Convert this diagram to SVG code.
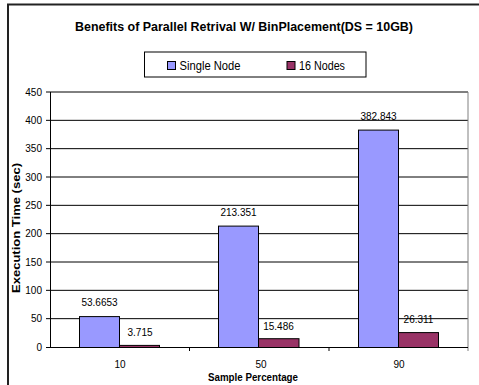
<svg xmlns="http://www.w3.org/2000/svg" width="479" height="385" viewBox="0 0 479 385">
  <style>
    text { font-family: "Liberation Sans", Arial, sans-serif; fill: #000; }
    .ylab { font-size: 10px; text-anchor: end; }
    .xlab { font-size: 10px; text-anchor: middle; }
    .val { font-size: 10px; text-anchor: middle; }
    .title { font-size: 13px; font-weight: bold; text-anchor: middle; }
    .axtitle { font-size: 10px; font-weight: bold; text-anchor: middle; }
    .leg { font-size: 12px; }
    .grid { stroke: #000; stroke-width: 1; }
    .axis { stroke: #808080; stroke-width: 1; fill: none; }
    .single { fill: #9999FF; stroke: #000; stroke-width: 1; }
    .nodes16 { fill: #993366; stroke: #000; stroke-width: 1; }
  </style>

  <rect x="0" y="0" width="479" height="385" fill="#fff"/>
  <!-- chart frame (runs past the right and bottom edges) -->
  <rect x="8" y="4.5" width="480" height="390" fill="none" stroke="#222" stroke-width="2"/>

  <text class="title" x="244" y="31" textLength="338" lengthAdjust="spacingAndGlyphs">Benefits of Parallel Retrival W/ BinPlacement(DS = 10GB)</text>

  <!-- legend -->
  <g id="legend">
    <rect x="144.5" y="52" width="221.5" height="25" fill="#fff" stroke="#000" stroke-width="1"/>
    <rect class="single" x="167.5" y="61.5" width="8" height="8"/>
    <text class="leg" x="179.5" y="69.5" textLength="61" lengthAdjust="spacingAndGlyphs">Single Node</text>
    <rect class="nodes16" x="287" y="61.5" width="8" height="8"/>
    <text class="leg" x="299" y="69.5" textLength="46" lengthAdjust="spacingAndGlyphs">16 Nodes</text>
  </g>

  <!-- gridlines -->
  <g id="gridlines">
    <line class="grid" x1="50" y1="92" x2="468" y2="92"/>
    <line class="grid" x1="50" y1="120.33" x2="468" y2="120.33"/>
    <line class="grid" x1="50" y1="148.67" x2="468" y2="148.67"/>
    <line class="grid" x1="50" y1="177" x2="468" y2="177"/>
    <line class="grid" x1="50" y1="205.33" x2="468" y2="205.33"/>
    <line class="grid" x1="50" y1="233.67" x2="468" y2="233.67"/>
    <line class="grid" x1="50" y1="262" x2="468" y2="262"/>
    <line class="grid" x1="50" y1="290.33" x2="468" y2="290.33"/>
    <line class="grid" x1="50" y1="318.67" x2="468" y2="318.67"/>
  </g>

  <!-- plot border and axes -->
  <g id="axes">
    <line class="axis" x1="468" y1="92" x2="468" y2="351"/>
    <line x1="50.5" y1="92" x2="50.5" y2="347" stroke="#000"/>
    <line x1="50" y1="347.5" x2="468" y2="347.5" stroke="#000"/>
    <g stroke="#000">
      <line x1="46" y1="92" x2="50" y2="92"/>
      <line x1="46" y1="120.33" x2="50" y2="120.33"/>
      <line x1="46" y1="148.67" x2="50" y2="148.67"/>
      <line x1="46" y1="177" x2="50" y2="177"/>
      <line x1="46" y1="205.33" x2="50" y2="205.33"/>
      <line x1="46" y1="233.67" x2="50" y2="233.67"/>
      <line x1="46" y1="262" x2="50" y2="262"/>
      <line x1="46" y1="290.33" x2="50" y2="290.33"/>
      <line x1="46" y1="318.67" x2="50" y2="318.67"/>
      <line x1="46" y1="347.5" x2="50" y2="347.5"/>
      <line x1="189.5" y1="347" x2="189.5" y2="351"/>
      <line x1="329" y1="347" x2="329" y2="351"/>
    </g>
  </g>

  <!-- y axis labels -->
  <g id="y-labels">
    <text class="ylab" x="42" y="95.5">450</text>
    <text class="ylab" x="42" y="123.8">400</text>
    <text class="ylab" x="42" y="152.2">350</text>
    <text class="ylab" x="42" y="180.5">300</text>
    <text class="ylab" x="42" y="208.8">250</text>
    <text class="ylab" x="42" y="237.2">200</text>
    <text class="ylab" x="42" y="265.5">150</text>
    <text class="ylab" x="42" y="293.8">100</text>
    <text class="ylab" x="42" y="322.2">50</text>
    <text class="ylab" x="42" y="350.5">0</text>
  </g>

  <!-- bars -->
  <g id="bar-10">
    <rect class="single" x="79.5" y="316.6" width="40" height="30.9"/>
    <rect class="nodes16" x="119.5" y="345.4" width="40" height="2.1"/>
    <text class="val" x="99.5" y="306">53.6653</text>
    <text class="val" x="140" y="335.5">3.715</text>
  </g>
  <g id="bar-50">
    <rect class="single" x="218.5" y="226.1" width="40" height="121.4"/>
    <rect class="nodes16" x="258.5" y="338.7" width="40.5" height="8.8"/>
    <text class="val" x="238.5" y="215.5">213.351</text>
    <text class="val" x="278.5" y="330">15.486</text>
  </g>
  <g id="bar-90">
    <rect class="single" x="358.5" y="130.1" width="40" height="217.4"/>
    <rect class="nodes16" x="398.5" y="332.6" width="40" height="14.9"/>
    <text class="val" x="378.5" y="120">382.843</text>
    <text class="val" x="418.5" y="322.5">26.311</text>
  </g>

  <!-- x axis labels -->
  <g id="x-labels">
    <text class="xlab" x="120" y="367.5">10</text>
    <text class="xlab" x="261" y="367.5">50</text>
    <text class="xlab" x="399" y="367.5">90</text>
    <text class="axtitle" x="253" y="380.5" textLength="90" lengthAdjust="spacingAndGlyphs">Sample Percentage</text>
    <text class="axtitle" x="19.5" y="228" textLength="130" lengthAdjust="spacingAndGlyphs" transform="rotate(-90 19.5 228)">Execution Time (sec)</text>
  </g>
</svg>
